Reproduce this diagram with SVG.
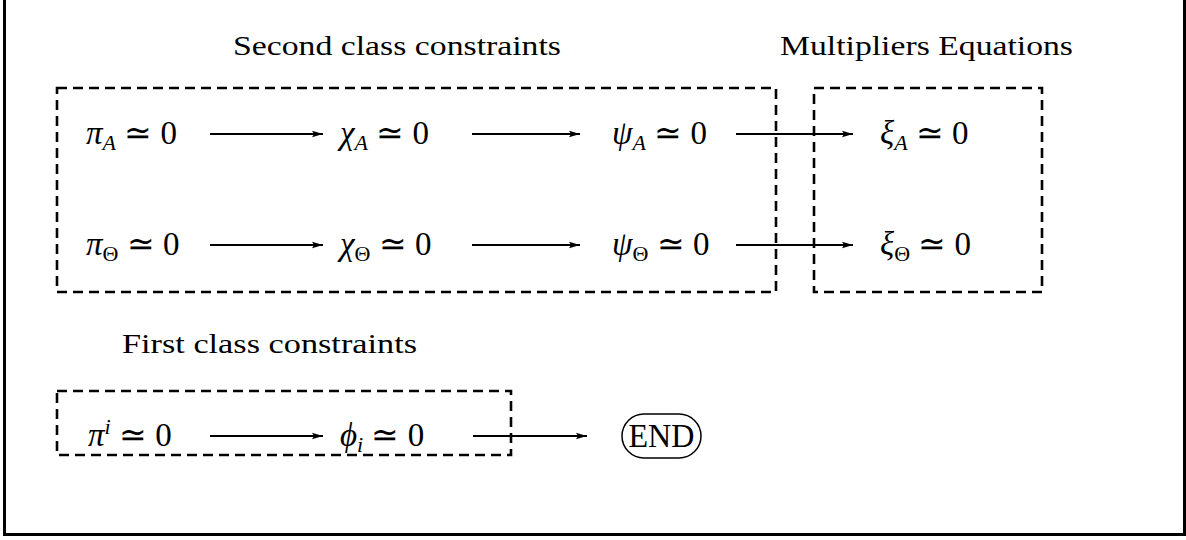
<svg xmlns="http://www.w3.org/2000/svg" width="1186" height="540" viewBox="0 0 1186 540">
<style>
text{font-family:"Liberation Serif","Times New Roman",Tinos,"Nimbus Roman",serif;fill:#000}
.t{font-size:28px}
.m{font-size:33px}
.i{font-style:italic}
.s{font-size:22px}
.box{fill:none;stroke:#000;stroke-width:2.6;stroke-dasharray:10 6}
.c{stroke:#000;stroke-width:2.2;fill:none;marker-end:url(#ah)}
</style>
<defs>
<marker id="ah" markerWidth="12" markerHeight="8" refX="11" refY="4" orient="auto" markerUnits="userSpaceOnUse">
<path d="M0,0.8 L11,4 L0,7.2 L2,4 Z" fill="#000"/>
</marker>
</defs>
<rect width="1186" height="540" fill="#fff"/>
<path d="M4.5,0 V534.5 H1184.5 V0" fill="none" stroke="#000" stroke-width="3"/>
<g id="titles">
<text class="t" x="233" y="55" textLength="328" lengthAdjust="spacingAndGlyphs">Second class constraints</text>
<text class="t" x="780" y="55" textLength="293" lengthAdjust="spacingAndGlyphs">Multipliers Equations</text>
<text class="t" x="122" y="353" textLength="295" lengthAdjust="spacingAndGlyphs">First class constraints</text>
</g>
<g id="boxes">
<rect id="second-class" class="box" x="57" y="88" width="719" height="204"/>
<rect id="multipliers" class="box" x="814" y="88" width="228" height="204"/>
<rect id="first-class" class="box" x="57" y="391" width="454" height="64"/>
</g>
<g id="connectors">
<line class="c" x1="210" y1="134" x2="323" y2="134"/>
<line class="c" x1="472" y1="134" x2="580" y2="134"/>
<line class="c" x1="736" y1="134" x2="853" y2="134"/>
<line class="c" x1="210" y1="245" x2="323" y2="245"/>
<line class="c" x1="472" y1="245" x2="580" y2="245"/>
<line class="c" x1="736" y1="245" x2="853" y2="245"/>
<line class="c" x1="210" y1="436" x2="323" y2="436"/>
<line class="c" x1="473" y1="436" x2="587" y2="436"/>
</g>
<g id="piA"><text class="m" x="86" y="144"><tspan class="i">π</tspan><tspan class="i s" dy="6">A</tspan><tspan dy="-6"> ≃ 0</tspan></text></g>
<g id="chiA"><text class="m" x="340" y="144"><tspan class="i">χ</tspan><tspan class="i s" dy="6">A</tspan><tspan dy="-6"> ≃ 0</tspan></text></g>
<g id="psiA"><text class="m" x="612" y="144"><tspan class="i">ψ</tspan><tspan class="i s" dy="6">A</tspan><tspan dy="-6"> ≃ 0</tspan></text></g>
<g id="xiA"><text class="m" x="880" y="144"><tspan class="i">ξ</tspan><tspan class="i s" dy="6">A</tspan><tspan dy="-6"> ≃ 0</tspan></text></g>
<g id="piTh"><text class="m" x="86" y="255"><tspan class="i">π</tspan><tspan class="s" dy="6">Θ</tspan><tspan dy="-6"> ≃ 0</tspan></text></g>
<g id="chiTh"><text class="m" x="340" y="255"><tspan class="i">χ</tspan><tspan class="s" dy="6">Θ</tspan><tspan dy="-6"> ≃ 0</tspan></text></g>
<g id="psiTh"><text class="m" x="612" y="255"><tspan class="i">ψ</tspan><tspan class="s" dy="6">Θ</tspan><tspan dy="-6"> ≃ 0</tspan></text></g>
<g id="xiTh"><text class="m" x="880" y="255"><tspan class="i">ξ</tspan><tspan class="s" dy="6">Θ</tspan><tspan dy="-6"> ≃ 0</tspan></text></g>
<g id="pii"><text class="m" x="88" y="446"><tspan class="i">π</tspan><tspan class="i s" dy="-12">i</tspan><tspan dy="12"> ≃ 0</tspan></text></g>
<g id="phii"><text class="m" x="340" y="446"><tspan class="i">ϕ</tspan><tspan class="i s" dy="6">i</tspan><tspan dy="-6"> ≃ 0</tspan></text></g>
<g id="end">
<rect x="622" y="414" width="79" height="44" rx="22" ry="22" fill="none" stroke="#000" stroke-width="1.5"/>
<text class="m" x="661.5" y="447" text-anchor="middle" textLength="66" lengthAdjust="spacingAndGlyphs">END</text>
</g>
</svg>
